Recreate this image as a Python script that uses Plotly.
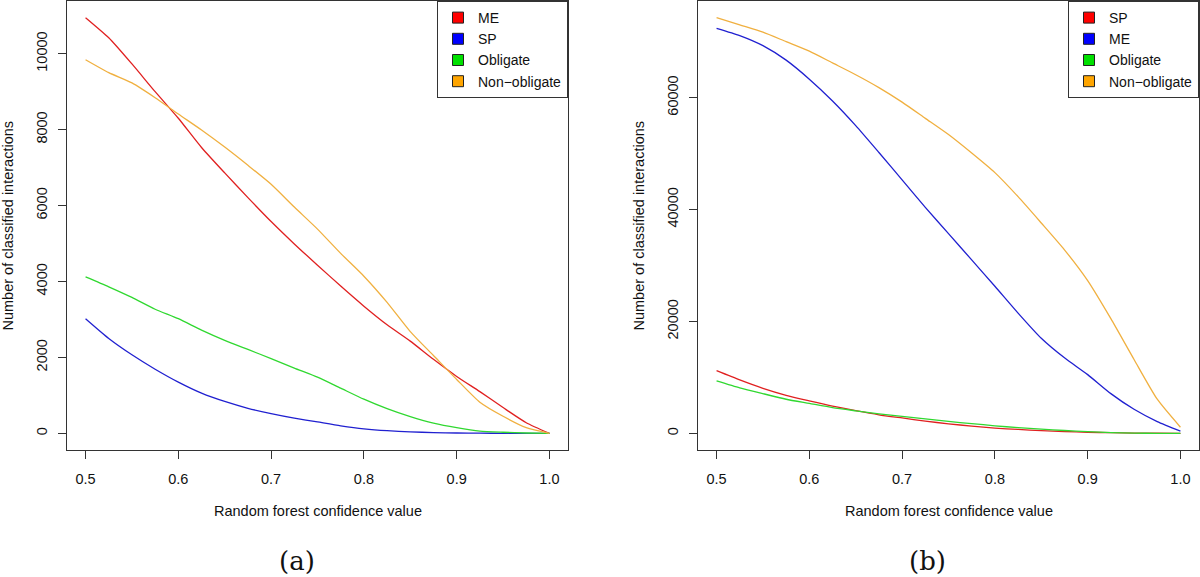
import plotly.graph_objects as go

# ---------------- data ----------------
confidence = [0.500, 0.525, 0.550, 0.575, 0.600, 0.625, 0.650, 0.675, 0.700, 0.725,
              0.750, 0.775, 0.800, 0.825, 0.850, 0.875, 0.900, 0.925, 0.950, 0.975, 1.000]

# panel (a)
a_me = [10950, 10420, 9730, 9000, 8300, 7530, 6860, 6210, 5580, 4990,
        4430, 3880, 3350, 2860, 2430, 1950, 1500, 1100, 680, 280, 0]
a_sp = [3020, 2500, 2070, 1690, 1350, 1060, 840, 660, 520, 400,
        300, 200, 120, 70, 40, 20, 10, 5, 2, 1, 0]
a_obligate = [4120, 3860, 3580, 3270, 3020, 2720, 2450, 2210, 1970, 1720,
              1480, 1190, 900, 650, 440, 270, 150, 60, 30, 10, 0]
a_nonobligate = [9840, 9500, 9230, 8840, 8410, 7990, 7540, 7060, 6560, 5960,
                 5380, 4740, 4140, 3450, 2680, 2050, 1420, 820, 450, 150, 0]

# panel (b)
b_sp = [11200, 9550, 8050, 6800, 5800, 4850, 4050, 3320, 2750, 2200,
        1700, 1300, 950, 700, 500, 330, 200, 120, 60, 20, 0]
b_me = [72400, 71100, 69300, 66700, 63300, 59400, 55000, 50200, 45300, 40400,
        35700, 31000, 26300, 21500, 17000, 13500, 10500, 7100, 4300, 2100, 400]
b_obligate = [9400, 8150, 7100, 6100, 5350, 4600, 4030, 3500, 3050, 2580,
              2130, 1750, 1350, 1030, 750, 510, 300, 130, 40, 10, 0]
b_nonobligate = [74300, 73000, 71700, 70000, 68300, 66200, 64100, 61800, 59200, 56300,
                 53400, 50100, 46600, 42300, 37600, 32800, 27300, 20500, 13200, 6100, 1100]

x_ticks = [0.5, 0.6, 0.7, 0.8, 0.9, 1.0]
a_yticks = [0, 2000, 4000, 6000, 8000, 10000]
b_yticks = [0, 20000, 40000, 60000]

a_names = ["ME", "SP", "Obligate", "Non\u2212obligate"]
b_names = ["SP", "ME", "Obligate", "Non\u2212obligate"]
colors = ["#FF0000", "#0000FF", "#00E000", "#FFA500"]
line_colors = ["#E02020", "#2020D0", "#30D830", "#F0B040"]

a_series = [a_me, a_sp, a_obligate, a_nonobligate]
b_series = [b_sp, b_me, b_obligate, b_nonobligate]

FONT = "Liberation Sans, Arial, sans-serif"
FS = 14.5

fig = go.Figure()

for series, name, lcol in zip(a_series, a_names, line_colors):
    fig.add_trace(go.Scatter(x=confidence, y=series, mode="lines", name=name,
                             line=dict(color=lcol, width=1.3, shape="spline", smoothing=0.6),
                             showlegend=False, xaxis="x", yaxis="y"))
for name, col in zip(a_names, colors):
    fig.add_trace(go.Scatter(x=[None], y=[None], mode="markers", name=name,
                             marker=dict(symbol="square", size=11, color=col,
                                         line=dict(color="#222", width=1)),
                             legend="legend", xaxis="x", yaxis="y"))

for series, name, lcol in zip(b_series, b_names, line_colors):
    fig.add_trace(go.Scatter(x=confidence, y=series, mode="lines", name=name,
                             line=dict(color=lcol, width=1.3, shape="spline", smoothing=0.6),
                             showlegend=False, xaxis="x2", yaxis="y2"))
for name, col in zip(b_names, colors):
    fig.add_trace(go.Scatter(x=[None], y=[None], mode="markers", name=name,
                             marker=dict(symbol="square", size=11, color=col,
                                         line=dict(color="#222", width=1)),
                             legend="legend2", xaxis="x2", yaxis="y2"))

W, H = 1200, 577
a_left, a_right = 67, 568
b_left, b_right = 698, 1199
p_top, p_bottom = 1, 450


def px(v):
    return v / W


def py(v):
    return 1 - v / H


axis_common = dict(showline=True, linecolor="#333", linewidth=1, mirror=True,
                   ticks="outside", ticklen=8, tickwidth=1, tickcolor="#333",
                   showgrid=False, zeroline=False,
                   tickfont=dict(family=FONT, size=FS, color="#111"))

a_ymax = max(a_me)
b_ymax = max(b_nonobligate)

legend_common = dict(yanchor="top", xanchor="right", y=py(p_top),
                     bordercolor="#333", borderwidth=1, bgcolor="white",
                     font=dict(family=FONT, size=14, color="#111"),
                     itemwidth=30, tracegroupgap=0)

fig.update_layout(
    width=W, height=H,
    margin=dict(l=0, r=0, t=0, b=0),
    paper_bgcolor="white", plot_bgcolor="white",
    font=dict(family=FONT, size=FS, color="#111"),
    xaxis=dict(domain=[px(a_left), px(a_right)], range=[0.48, 1.02],
               tickvals=x_ticks, tickformat=".1f", anchor="y",
               ticklabelstandoff=8, **axis_common),
    yaxis=dict(domain=[py(p_bottom), py(p_top)],
               range=[-0.04 * a_ymax, 1.04 * a_ymax],
               tickvals=a_yticks, tickformat="d", tickangle=-90, anchor="x",
               ticklabelstandoff=5, **axis_common),
    xaxis2=dict(domain=[px(b_left), px(b_right)], range=[0.48, 1.02],
                tickvals=x_ticks, tickformat=".1f", anchor="y2",
                ticklabelstandoff=8, **axis_common),
    yaxis2=dict(domain=[py(p_bottom), py(p_top)],
                range=[-0.04 * b_ymax, 1.04 * b_ymax],
                tickvals=b_yticks, tickformat="d", tickangle=-90, anchor="x2",
                ticklabelstandoff=5, **axis_common),
    legend=dict(x=px(a_right), **legend_common),
    legend2=dict(x=px(b_right), **legend_common),
)

annotations = []
for left, right, lab in [(a_left, a_right, "(a)"), (b_left, b_right, "(b)")]:
    cx = (left + right) / 2
    annotations.append(dict(text="Random forest confidence value", x=px(cx), y=py(511),
                            xref="paper", yref="paper", showarrow=False,
                            xanchor="center", yanchor="middle",
                            font=dict(family=FONT, size=FS, color="#111")))
    annotations.append(dict(text="Number of classified interactions", x=px(left - 60),
                            y=py((p_top + p_bottom) / 2),
                            xref="paper", yref="paper", showarrow=False, textangle=-90,
                            xanchor="center", yanchor="middle",
                            font=dict(family=FONT, size=FS, color="#111")))
    annotations.append(dict(text=lab, x=px(cx - 21), y=py(561),
                            xref="paper", yref="paper", showarrow=False,
                            xanchor="center", yanchor="middle",
                            font=dict(family="DejaVu Serif, serif", size=26, color="#111")))
fig.update_layout(annotations=annotations)

fig.write_html("out.html", config={"displayModeBar": False},
               post_script="document.body.style.margin='0';document.body.style.overflow='hidden';")
